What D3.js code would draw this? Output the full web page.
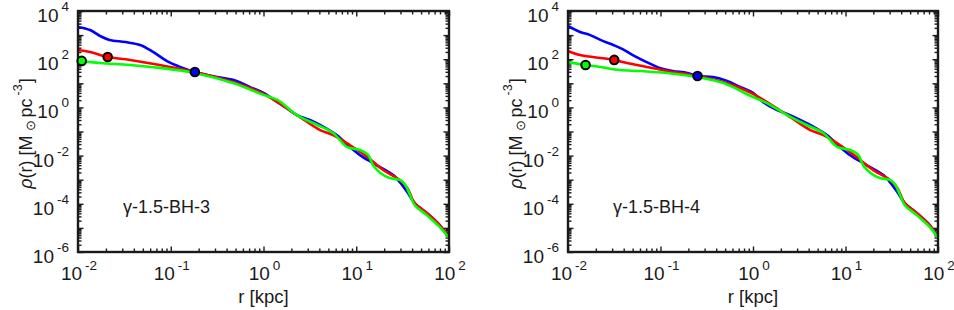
<!DOCTYPE html>
<html><head><meta charset="utf-8">
<script src="https://cdn.jsdelivr.net/npm/d3@7"></script>
<style>
body{margin:0;background:#fff}
svg{display:block}
text{font-family:"Liberation Sans",Arial,Helvetica,sans-serif;fill:#1a1a1a}
</style>
</head><body>
<svg id="c" width="954" height="310"></svg>
<script>
// ---- data (values as [log10 r / kpc, log10 rho / (Msun pc^-3)]) ----
const xTickExps = [-2, -1, 0, 1, 2];
const yTickExps = [-6, -4, -2, 0, 2, 4];
const panelLabels = ["γ-1.5-BH-3", "γ-1.5-BH-4"];

const blue3 = [[-2,3.34],[-1.87,3.21],[-1.76,2.96],[-1.66,2.80],[-1.49,2.71],[-1.33,2.59],[-1.19,2.30],[-1.04,1.92],[-0.90,1.68],[-0.74,1.47],[-0.50,1.26],[-0.29,1.10],[-0.15,0.85],[0.00,0.60],[0.15,0.22],[0.25,-0.03],[0.36,-0.32],[0.50,-0.52],[0.61,-0.73],[0.79,-1.15],[0.93,-1.64],[1.04,-1.98],[1.18,-2.31],[1.40,-2.81],[1.47,-3.10],[1.55,-3.51],[1.63,-3.97],[1.76,-4.38],[1.90,-4.88],[2.00,-5.42]];
const red3 = [[-2,2.38],[-1.87,2.30],[-1.68,2.09],[-1.44,1.97],[-1.12,1.76],[-0.74,1.47],[-0.33,1.05],[0.00,0.56],[0.36,-0.32],[0.61,-0.94],[0.75,-1.15],[0.93,-1.56],[1.12,-2.06],[1.29,-2.60],[1.47,-3.01],[1.55,-3.34],[1.63,-3.97],[1.76,-4.38],[1.90,-4.88],[2.00,-5.42]];
const green3 = [[-2,1.93],[-1.76,1.84],[-1.44,1.76],[-1.12,1.64],[-0.74,1.43],[-0.33,1.01],[0.00,0.52],[0.15,0.31],[0.36,-0.32],[0.58,-0.73],[0.75,-1.06],[0.90,-1.64],[1.04,-1.77],[1.13,-1.98],[1.18,-2.39],[1.26,-2.72],[1.36,-2.93],[1.47,-3.01],[1.53,-3.22],[1.58,-3.64],[1.63,-4.05],[1.76,-4.47],[1.90,-4.96],[2.00,-5.42]];
const dots3 = [[-1.96,1.93],[-1.68,2.09],[-0.74,1.47]];

const blue4 = [[-2,3.38],[-1.87,3.13],[-1.76,3.00],[-1.65,2.80],[-1.51,2.59],[-1.41,2.42],[-1.30,2.17],[-1.15,1.88],[-1.01,1.64],[-0.87,1.51],[-0.71,1.43],[-0.60,1.30],[-0.43,1.26],[-0.28,1.10],[-0.14,0.85],[0.00,0.60],[0.11,0.22],[0.26,-0.11],[0.40,-0.32],[0.51,-0.52],[0.62,-0.73],[0.80,-1.15],[0.94,-1.64],[1.05,-1.98],[1.19,-2.31],[1.41,-2.81],[1.48,-3.10],[1.56,-3.51],[1.64,-3.97],[1.77,-4.38],[1.91,-4.88],[2.00,-5.42]];
const red4 = [[-2,2.34],[-1.87,2.17],[-1.73,2.09],[-1.50,1.97],[-1.36,1.84],[-1.15,1.68],[-0.93,1.51],[-0.60,1.30],[-0.32,1.05],[0.00,0.56],[0.37,-0.32],[0.62,-0.94],[0.76,-1.15],[0.94,-1.56],[1.12,-2.06],[1.30,-2.60],[1.48,-3.01],[1.56,-3.34],[1.64,-3.97],[1.77,-4.38],[1.91,-4.88],[2.00,-5.42]];
const green4 = [[-2,1.88],[-1.81,1.76],[-1.65,1.68],[-1.44,1.55],[-1.22,1.51],[-0.93,1.43],[-0.60,1.26],[-0.32,1.01],[0.00,0.43],[0.15,0.18],[0.37,-0.32],[0.58,-0.73],[0.76,-1.06],[0.91,-1.64],[1.05,-1.77],[1.14,-1.98],[1.19,-2.39],[1.27,-2.72],[1.37,-2.93],[1.48,-3.01],[1.54,-3.22],[1.59,-3.64],[1.64,-4.05],[1.77,-4.47],[1.91,-4.96],[2.00,-5.42]];
const dots4 = [[-1.81,1.76],[-1.50,1.97],[-0.60,1.30]];

const seriesColors = ["#0000ff", "#ff0000", "#00ff00"];
const dotColors = ["#00ff00", "#ff0000", "#0000ff"];

const panels = [
  {left: 78, right: 449, lines: [blue3, red3, green3], dots: dots3, label: panelLabels[0]},
  {left: 568, right: 938, lines: [blue4, red4, green4], dots: dots4, label: panelLabels[1]}
];
const plotTop = 11, plotBottom = 252;
const svg = d3.select("#c");
const axisColor = "#1a1a1a";

function minorTicks(e0, e1) {
  const out = [];
  for (let e = e0; e < e1; e++) for (let m = 2; m <= 9; m++) out.push(m * Math.pow(10, e));
  return out;
}

panels.forEach((p, i) => {
  const x = d3.scaleLog().domain([1e-2, 1e2]).range([p.left, p.right]);
  const y = d3.scaleLog().domain([1e-6, 1e4]).range([plotBottom, plotTop]);
  const g = svg.append("g");
  const clipId = "clip" + i;
  svg.append("defs").append("clipPath").attr("id", clipId)
    .append("rect").attr("x", p.left).attr("y", plotTop)
    .attr("width", p.right - p.left).attr("height", plotBottom - plotTop);

  const xMaj = d3.range(-2, 3).map(e => Math.pow(10, e));
  const yMaj = d3.range(-6, 5).map(e => Math.pow(10, e));
  const xMin = minorTicks(-2, 2), yMin = minorTicks(-6, 4);
  const W = p.right - p.left, H = plotBottom - plotTop;

  const axes = [
    [() => d3.axisBottom(x), `translate(0,${plotBottom})`, xMaj, xMin],
    [() => d3.axisTop(x), `translate(0,${plotTop})`, xMaj, xMin],
    [() => d3.axisLeft(y), `translate(${p.left},0)`, yMaj, yMin],
    [() => d3.axisRight(y), `translate(${p.right},0)`, yMaj, yMin]
  ];
  axes.forEach(([mk, tr, maj, min]) => {
    [[min, 3.5], [maj, 5.5]].forEach(([vals, len]) => {
      const a = g.append("g").attr("transform", tr)
        .call(mk().tickValues(vals).tickSize(-len).tickFormat(""));
      a.select(".domain").remove();
      a.selectAll("line").attr("stroke", axisColor).attr("stroke-width", 1.4);
    });
  });

  // curves
  const line = d3.line()
    .x(d => x(Math.pow(10, d[0])))
    .y(d => y(Math.pow(10, d[1])))
    .curve(d3.curveCatmullRom.alpha(0.5));
  const cg = g.append("g").attr("clip-path", `url(#${clipId})`);
  p.lines.forEach((s, k) => {
    cg.append("path").datum(s).attr("d", line)
      .attr("fill", "none").attr("stroke", seriesColors[k])
      .attr("stroke-width", 2.6).attr("stroke-linejoin", "round");
  });

  // box
  g.append("rect").attr("x", p.left).attr("y", plotTop).attr("width", W).attr("height", H)
    .attr("fill", "none").attr("stroke", axisColor).attr("stroke-width", 2.4);

  // dots
  g.selectAll("circle.dot").data(p.dots).join("circle")
    .attr("cx", d => x(Math.pow(10, d[0])))
    .attr("cy", d => y(Math.pow(10, d[1])))
    .attr("r", 4.3)
    .attr("fill", (d, k) => dotColors[k])
    .attr("stroke", "#000").attr("stroke-width", 2);

  // x tick labels
  xTickExps.forEach(e => {
    const t = g.append("text").attr("x", x(Math.pow(10, e)) + 1).attr("y", 280)
      .attr("text-anchor", "middle").attr("font-size", 19);
    t.append("tspan").text("10");
    t.append("tspan").attr("dy", -10).attr("font-size", 13.5).attr("dx", 3).text(String(e));
  });
  // y tick labels
  yTickExps.forEach(e => {
    const t = g.append("text").attr("x", p.left - 9).attr("y", y(Math.pow(10, e)) + 11)
      .attr("text-anchor", "end").attr("font-size", 19);
    t.append("tspan").text("10");
    t.append("tspan").attr("dy", -11).attr("font-size", 13.5).attr("dx", 3).text(String(e));
  });

  // axis labels
  g.append("text").attr("x", (p.left + p.right) / 2).attr("y", 303)
    .attr("text-anchor", "middle").attr("font-size", 18.5).text("r [kpc]");

  const yl = g.append("text")
    .attr("transform", `translate(${p.left - 46},${(plotTop + plotBottom) / 2 + 2}) rotate(-90)`)
    .attr("text-anchor", "middle").attr("font-size", 18);
  yl.append("tspan").attr("font-style", "italic").text("ρ");
  yl.append("tspan").text("(r) [M");
  yl.append("tspan").attr("font-size", 13).attr("dy", 3).attr("dx", 4).text("⊙");
  yl.append("tspan").attr("dy", -3).attr("dx", 3).text("pc");
  yl.append("tspan").attr("font-size", 12.5).attr("dy", -10).attr("dx", 3).text("-3");
  yl.append("tspan").attr("dy", 10).attr("dx", 1).text("]");

  // panel label
  g.append("text").attr("x", p.left + 45).attr("y", 213).attr("font-size", 18)
    .text(p.label);
});
</script>
</body></html>
